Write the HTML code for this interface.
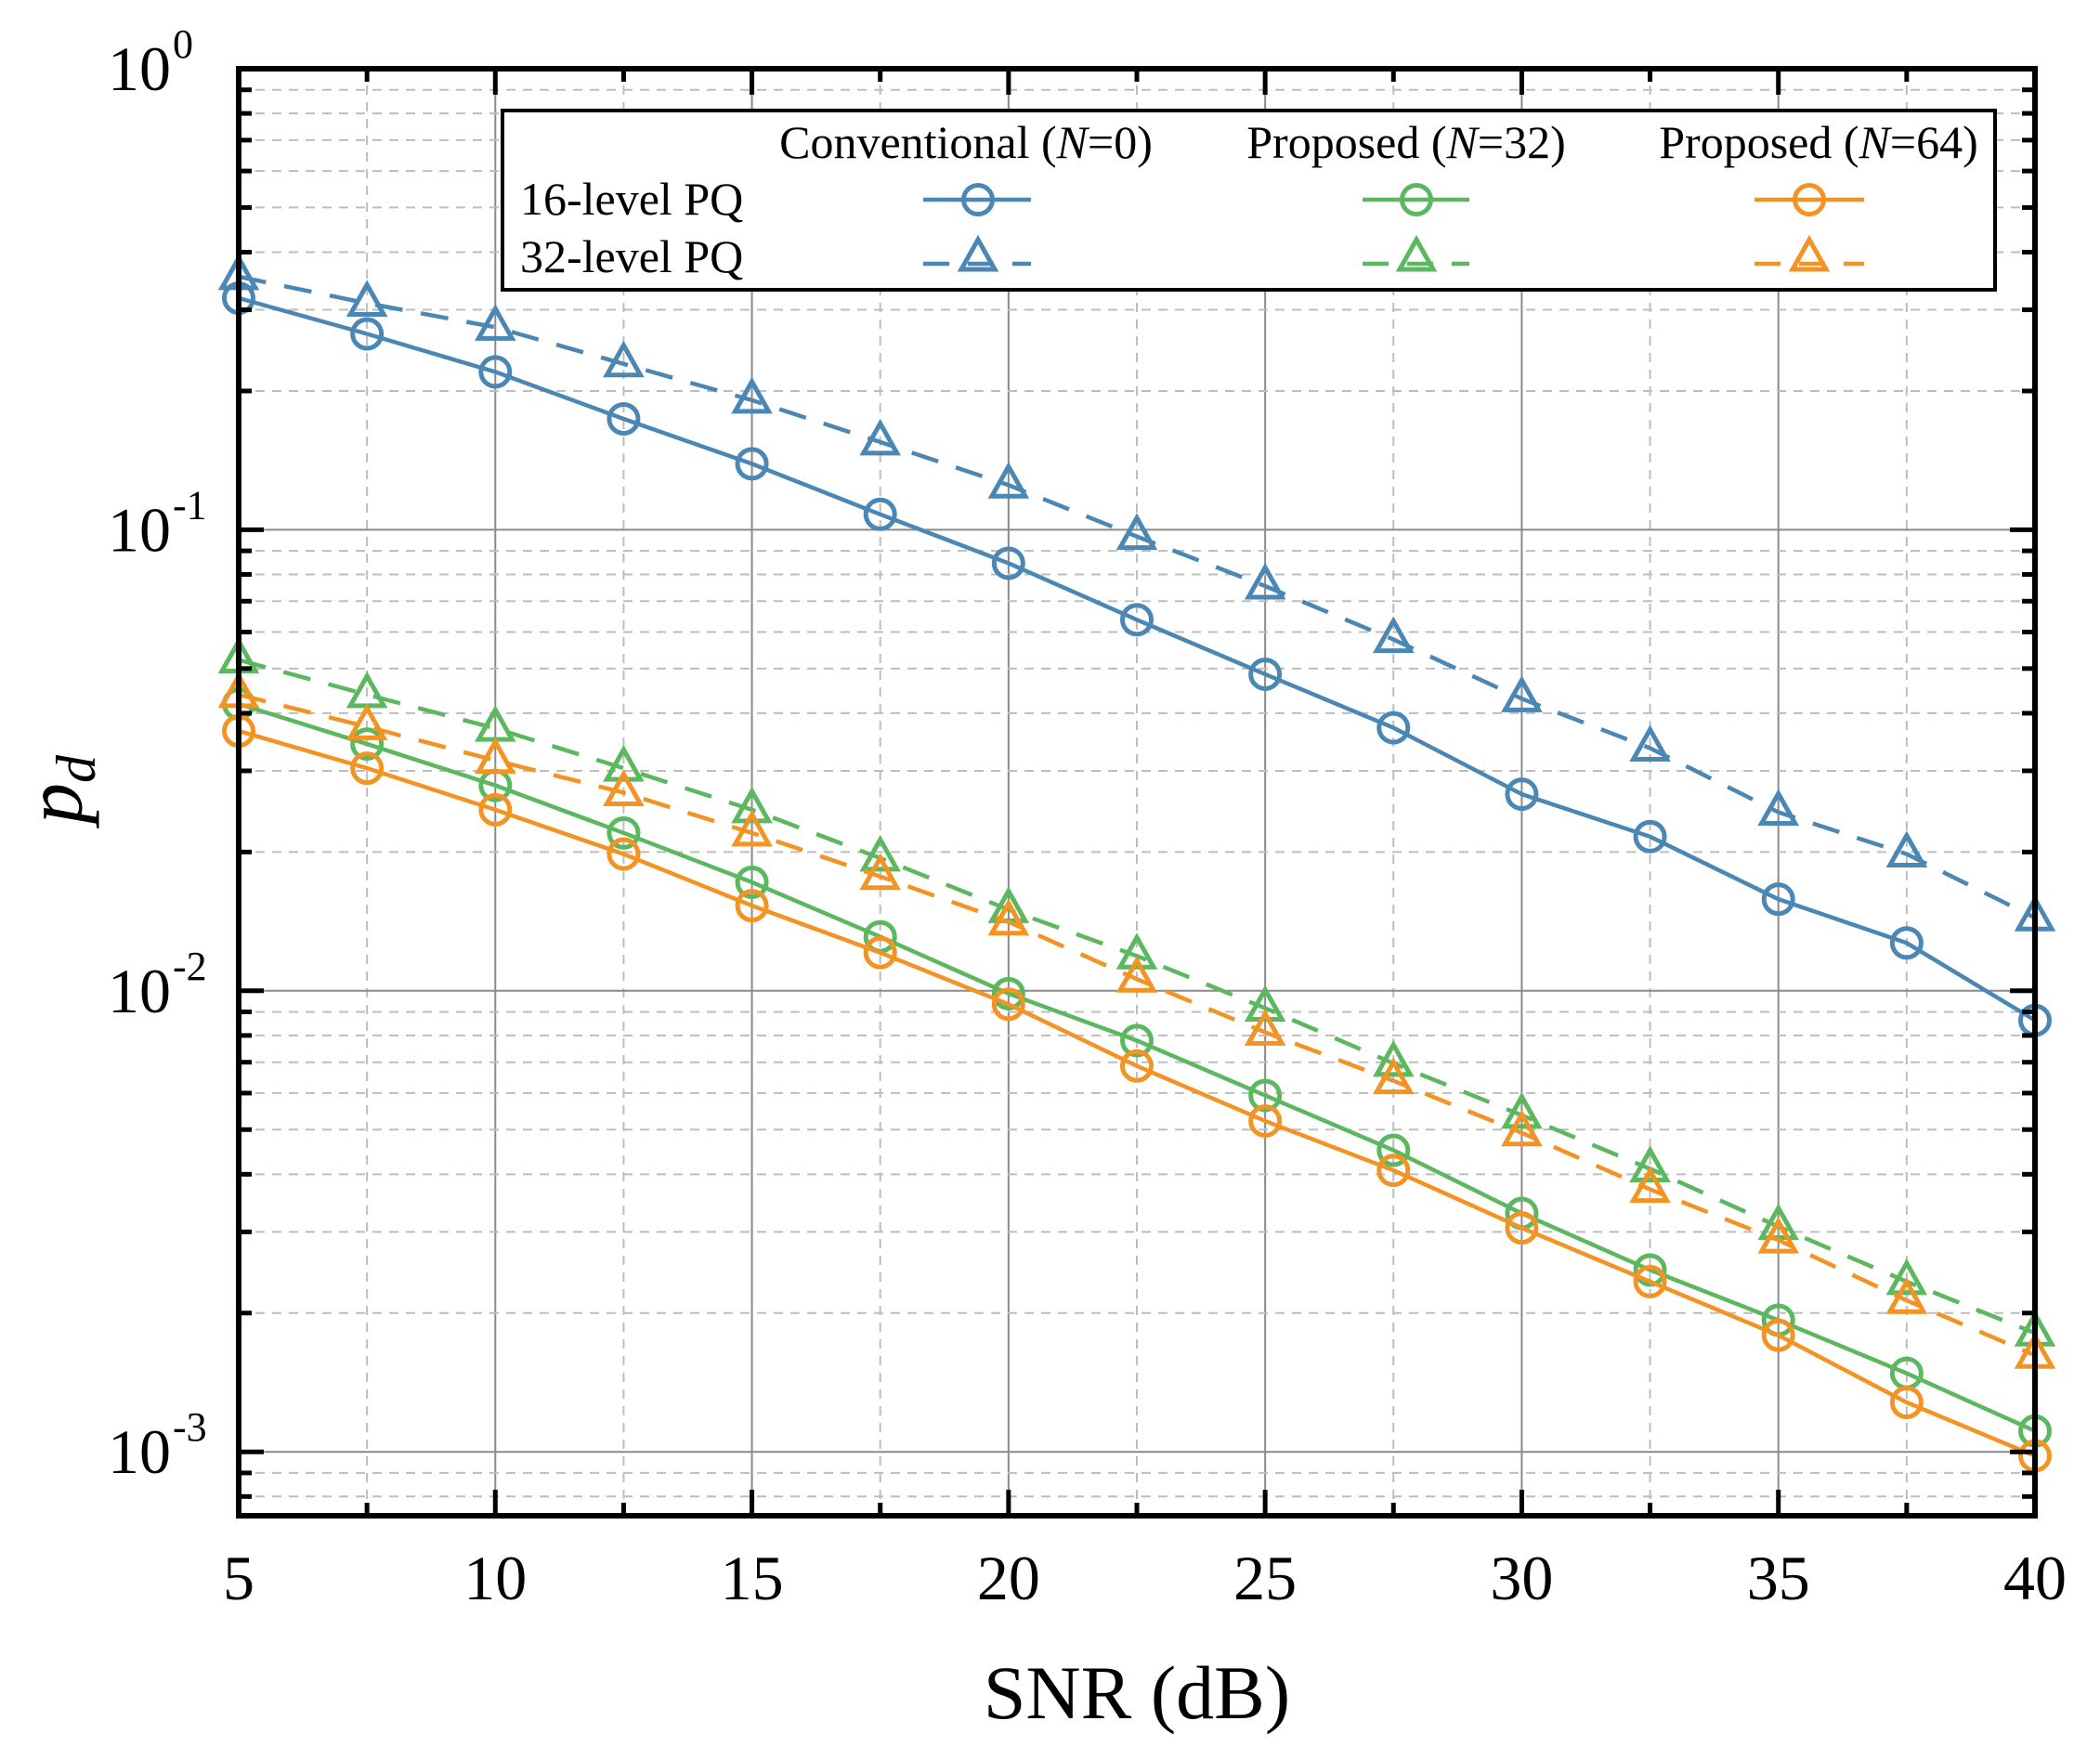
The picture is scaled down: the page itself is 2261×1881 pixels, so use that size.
<!DOCTYPE html>
<html><head><meta charset="utf-8"><style>
html,body{margin:0;padding:0;background:#fff}
svg{display:block;font-family:"Liberation Serif",serif}
</style></head><body>
<svg id="chart" width="2261" height="1881" viewBox="0 0 2261 1881" xmlns="http://www.w3.org/2000/svg">
<g id="grid"></g>
<g id="series"></g>
<g id="axes"></g>
<text x="1224" y="1850" font-size="82" text-anchor="middle">SNR (dB)</text>
<text transform="translate(88,850) rotate(-90)" font-size="88" text-anchor="middle" font-style="italic">p<tspan font-size="60" dy="14">d</tspan></text>
<g>
<rect x="541" y="119" width="1607" height="193" fill="#fff" stroke="#000" stroke-width="4"/>
<text x="1040" y="170" font-size="50" text-anchor="middle">Conventional (<tspan font-style="italic">N</tspan>=0)</text>
<text x="1514" y="170" font-size="50" text-anchor="middle">Proposed (<tspan font-style="italic">N</tspan>=32)</text>
<text x="1958" y="170" font-size="50" text-anchor="middle">Proposed (<tspan font-style="italic">N</tspan>=64)</text>
<text x="560" y="231" font-size="50">16-level PQ</text>
<text x="560" y="293" font-size="50">32-level PQ</text>
<g id="legendMarks"></g>
</g>
</svg>
<script>
const snr = [5,7.5,10,12.5,15,17.5,20,22.5,25,27.5,30,32.5,35,37.5,40];
const blue16 = [0.318,0.266,0.220,0.174,0.139,0.108,0.0846,0.0638,0.0486,0.0372,0.0267,0.0216,0.0158,0.0127,0.00863];
const blue32 = [0.354,0.310,0.275,0.229,0.191,0.155,0.125,0.0967,0.0755,0.0578,0.0430,0.0336,0.0244,0.0198,0.0144];
const green16 = [0.0419,0.0343,0.0279,0.0220,0.0172,0.0131,0.00986,0.00780,0.00593,0.00451,0.00329,0.00248,0.00193,0.00148,0.00111];
const green32 = [0.0522,0.0439,0.0371,0.0304,0.0247,0.0194,0.0150,0.0119,0.00917,0.00696,0.00537,0.00411,0.00308,0.00234,0.00181];
const orange16 = [0.0366,0.0304,0.0247,0.0198,0.0153,0.0121,0.00935,0.00687,0.00522,0.00408,0.00306,0.00234,0.00179,0.00128,0.00098];
const orange32 = [0.0439,0.0374,0.0316,0.0269,0.0220,0.0177,0.0141,0.0106,0.00813,0.00638,0.00492,0.00371,0.00288,0.00213,0.00162];
const xTicks = [5,10,15,20,25,30,35,40];
const yDecades = [0,-1,-2,-3];

const NS="http://www.w3.org/2000/svg";
const L=257,R=2191,T=74,B=1632,DEC=496.4;
function xs(v){return L+(v-5)/35*(R-L);}
function ys(v){return T-Math.log10(v)*DEC;}
function mk(tag,attrs,parent){const e=document.createElementNS(NS,tag);for(const k in attrs)e.setAttribute(k,attrs[k]);parent.appendChild(e);return e;}
const grid=document.getElementById('grid'),axes=document.getElementById('axes'),ser=document.getElementById('series');

for(let v=5;v<=40;v+=2.5){
  const x=xs(v);const major=(v%5===0);
  const g=mk('line',{x1:x,x2:x,y1:T,y2:B,stroke:major?'#8a8a8a':'#bdbdbd','stroke-width':2,'stroke-dasharray':major?'none':'10 8'},grid);
  
  
}
for(let d=0;d>=-4;d--){
  for(let m=1;m<=9;m++){
    const v=m*Math.pow(10,d);const y=ys(v);
    if(y<T-1||y>B)continue;
    const major=(m===1);
    const g=mk('line',{x1:L,x2:R,y1:y,y2:y,stroke:major?'#8a8a8a':'#bdbdbd','stroke-width':2,'stroke-dasharray':major?'none':'10 8'},grid);
    
    
    const len=major?27:14;
    mk('line',{x1:L,x2:L+len,y1:y,y2:y,stroke:'#000','stroke-width':5},axes);
    mk('line',{x1:R,x2:R-len,y1:y,y2:y,stroke:'#000','stroke-width':5},axes);
  }
}
for(let v=5;v<=40;v+=2.5){
  const x=xs(v);const len=(v%5===0)?28:14;
  mk('line',{x1:x,x2:x,y1:B,y2:B-len,stroke:'#000','stroke-width':5},axes);
  mk('line',{x1:x,x2:x,y1:T,y2:T+len,stroke:'#000','stroke-width':5},axes);
}
const fr=mk('rect',{x:L,y:T,width:R-L,height:B-T,fill:'none',stroke:'#000','stroke-width':6},axes);


xTicks.forEach(v=>{
  const t=mk('text',{x:xs(v),y:1722,'font-size':68,'text-anchor':'middle'},axes);
  t.textContent=v;
  
  
});
yDecades.forEach(d=>{
  const y=ys(Math.pow(10,d));
  const t=mk('text',{x:184,y:y+23,'font-size':68,'text-anchor':'end'},axes);
  t.textContent='10';
  
  
  const s=mk('text',{x:186,y:y-12,'font-size':44,'text-anchor':'start'},axes);
  s.textContent=d===0?'0':'-'+(-d);
  
  
});

function marker(type,cx,cy,color,parent){
  if(type==='c')return mk('circle',{cx:cx,cy:cy,r:15.5,fill:'none',stroke:color,'stroke-width':5},parent);
  return mk('polygon',{points:`${cx},${cy-20} ${cx-18},${cy+12} ${cx+18},${cy+12}`,fill:'none',stroke:color,'stroke-width':5,'stroke-linejoin':'miter'},parent);
}
const BLUE='#4a87b5',GREEN='#5cb85f',ORANGE='#f39324';
const sets=[[blue16,BLUE,'c','blue-16-level'],[blue32,BLUE,'t','blue-32-level'],[green16,GREEN,'c','green-16-level'],[green32,GREEN,'t','green-32-level'],[orange16,ORANGE,'c','orange-16-level'],[orange32,ORANGE,'t','orange-32-level']];
sets.forEach(([vals,col,type,name])=>{
  const g=mk('g',{},ser);
  
  
  const pts=vals.map((v,i)=>xs(snr[i])+','+ys(v)).join(' ');
  const pl=mk('polyline',{points:pts,fill:'none',stroke:col,'stroke-width':4.5,'stroke-dasharray':type==='t'?'30 20':'none'},g);
  
  
  vals.forEach((v,i)=>{
    const m=marker(type,xs(snr[i]),ys(v),col,g);
    
    
  });
});
const lg=document.getElementById('legendMarks');
[[1053,994,1110,BLUE],[1525,1467,1582,GREEN],[1948,1889,2007,ORANGE]].forEach(([cx,x1,x2,col])=>{
  const a=mk('line',{x1:x1,x2:x2,y1:215,y2:215,stroke:col,'stroke-width':4.5},lg);
  
  
  const c=marker('c',cx,215,col,lg);
  
  
  const b=mk('line',{x1:x1,x2:x2,y1:284,y2:284,stroke:col,'stroke-width':4.5,'stroke-dasharray':'28 20'},lg);
  
  
  const t=marker('t',cx,278,col,lg);
  
  
});
</script>
</body></html>
